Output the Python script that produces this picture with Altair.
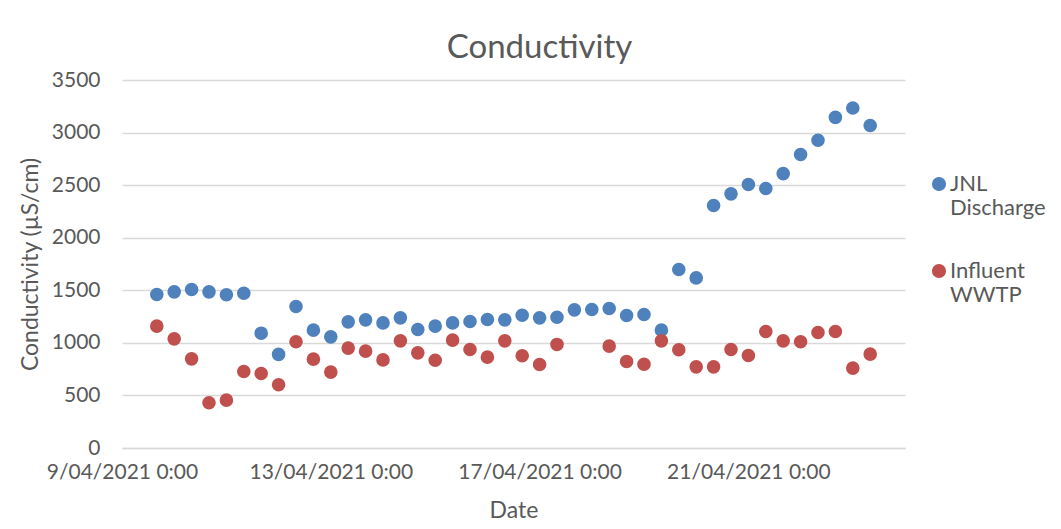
import altair as alt
import pandas as pd

dates = [
    "2021-04-09T16:00", "2021-04-10T00:00", "2021-04-10T08:00", "2021-04-10T16:00",
    "2021-04-11T00:00", "2021-04-11T08:00", "2021-04-11T16:00", "2021-04-12T00:00",
    "2021-04-12T08:00", "2021-04-12T16:00", "2021-04-13T00:00", "2021-04-13T08:00",
    "2021-04-13T16:00", "2021-04-14T00:00", "2021-04-14T08:00", "2021-04-14T16:00",
    "2021-04-15T00:00", "2021-04-15T08:00", "2021-04-15T16:00", "2021-04-16T00:00",
    "2021-04-16T08:00", "2021-04-16T16:00", "2021-04-17T00:00", "2021-04-17T08:00",
    "2021-04-17T16:00", "2021-04-18T00:00", "2021-04-18T08:00", "2021-04-18T16:00",
    "2021-04-19T00:00", "2021-04-19T08:00", "2021-04-19T16:00", "2021-04-20T00:00",
    "2021-04-20T08:00", "2021-04-20T16:00", "2021-04-21T00:00", "2021-04-21T08:00",
    "2021-04-21T16:00", "2021-04-22T00:00", "2021-04-22T08:00", "2021-04-22T16:00",
    "2021-04-23T00:00", "2021-04-23T08:00",
]

jnl_discharge = [
    1460, 1485, 1508, 1485, 1457, 1472, 1092, 890, 1346, 1121,
    1057, 1200, 1219, 1190, 1238, 1127, 1159, 1190, 1203, 1222,
    1219, 1263, 1238, 1244, 1314, 1317, 1327, 1260, 1270, 1121,
    1698, 1618, 2306, 2417, 2506, 2468, 2610, 2791, 2927, 3145,
    3234, 3067,
]

influent_wwtp = [
    1159, 1038, 848, 430, 455, 728, 709, 601, 1010, 845,
    722, 950, 921, 838, 1019, 905, 835, 1026, 937, 864,
    1019, 877, 794, 985, None, None, 969, 823, 797, 1019,
    934, 772, 772, 937, 880, 1108, 1019, 1010, 1099, 1108,
    760, 893,
]

series_names = ["JNL Discharge", "Influent WWTP"]
series_colors = ["#4F81BD", "#C0504D"]
y_ticks = [0, 500, 1000, 1500, 2000, 2500, 3000, 3500]

rows = []
for name, vals in zip(series_names, [jnl_discharge, influent_wwtp]):
    for d, v in zip(dates, vals):
        if v is not None:
            rows.append({"Date": d, "Value": v, "Series": name})
df = pd.DataFrame(rows)

FONT = "Lato"
TEXT = "#595959"
GRID = "#D9D9D9"

chart = alt.Chart(df).mark_circle(size=185, opacity=1).encode(
    x=alt.X(
        "Date:T",
        title="Date",
        scale=alt.Scale(domain=[alt.DateTime(year=2021, month=4, date=9),
                                alt.DateTime(year=2021, month=4, date=24)]),
        axis=alt.Axis(
            values=[alt.DateTime(year=2021, month=4, date=9),
                    alt.DateTime(year=2021, month=4, date=13),
                    alt.DateTime(year=2021, month=4, date=17),
                    alt.DateTime(year=2021, month=4, date=21)],
            format="%-d/%m/%Y %-H:%M",
            grid=False, ticks=False, domain=True, domainColor=GRID, domainWidth=1.5,
            labelFont=FONT, labelFontSize=21, labelColor=TEXT, labelPadding=13,
            labelFlush=False,
            titleFont=FONT, titleFontSize=23, titleColor=TEXT, titleFontWeight="normal",
            titlePadding=17,
        ),
    ),
    y=alt.Y(
        "Value:Q",
        title="Conductivity (µS/cm)",
        scale=alt.Scale(domain=[0, 3500], nice=False),
        axis=alt.Axis(
            values=y_ticks, format="d", grid=True, gridColor=GRID, gridWidth=1.5,
            ticks=False, domain=False,
            labelFont=FONT, labelFontSize=21, labelColor=TEXT, labelPadding=22,
            titleFont=FONT, titleFontSize=23, titleColor=TEXT, titleFontWeight="normal",
            titlePadding=9,
        ),
    ),
    color=alt.Color(
        "Series:N",
        scale=alt.Scale(domain=series_names, range=series_colors),
        legend=alt.Legend(
            title=None, orient="none", legendX=806, legendY=93,
            labelExpr="split(datum.label, ' ')",
            labelFont=FONT, labelFontSize=22, labelColor=TEXT,
            symbolType="circle", symbolSize=200, symbolStrokeWidth=0,
            labelBaseline="middle", labelOffset=0, rowPadding=41,
            labelLimit=200,
        ),
    ),
    order=alt.Order("Series:N", sort="descending"),
).properties(
    width=783,
    height=368,
    title=alt.TitleParams(
        "Conductivity", font=FONT, fontSize=33, color=TEXT, fontWeight="normal",
        anchor="middle", offset=4, dx=26,
    ),
    autosize=alt.AutoSizeParams(type="none"),
    padding={"left": 114, "top": 72, "right": 148, "bottom": 73},
).configure_view(stroke=None)

chart.save("out.html", embed_options={"renderer": "svg", "actions": False})
